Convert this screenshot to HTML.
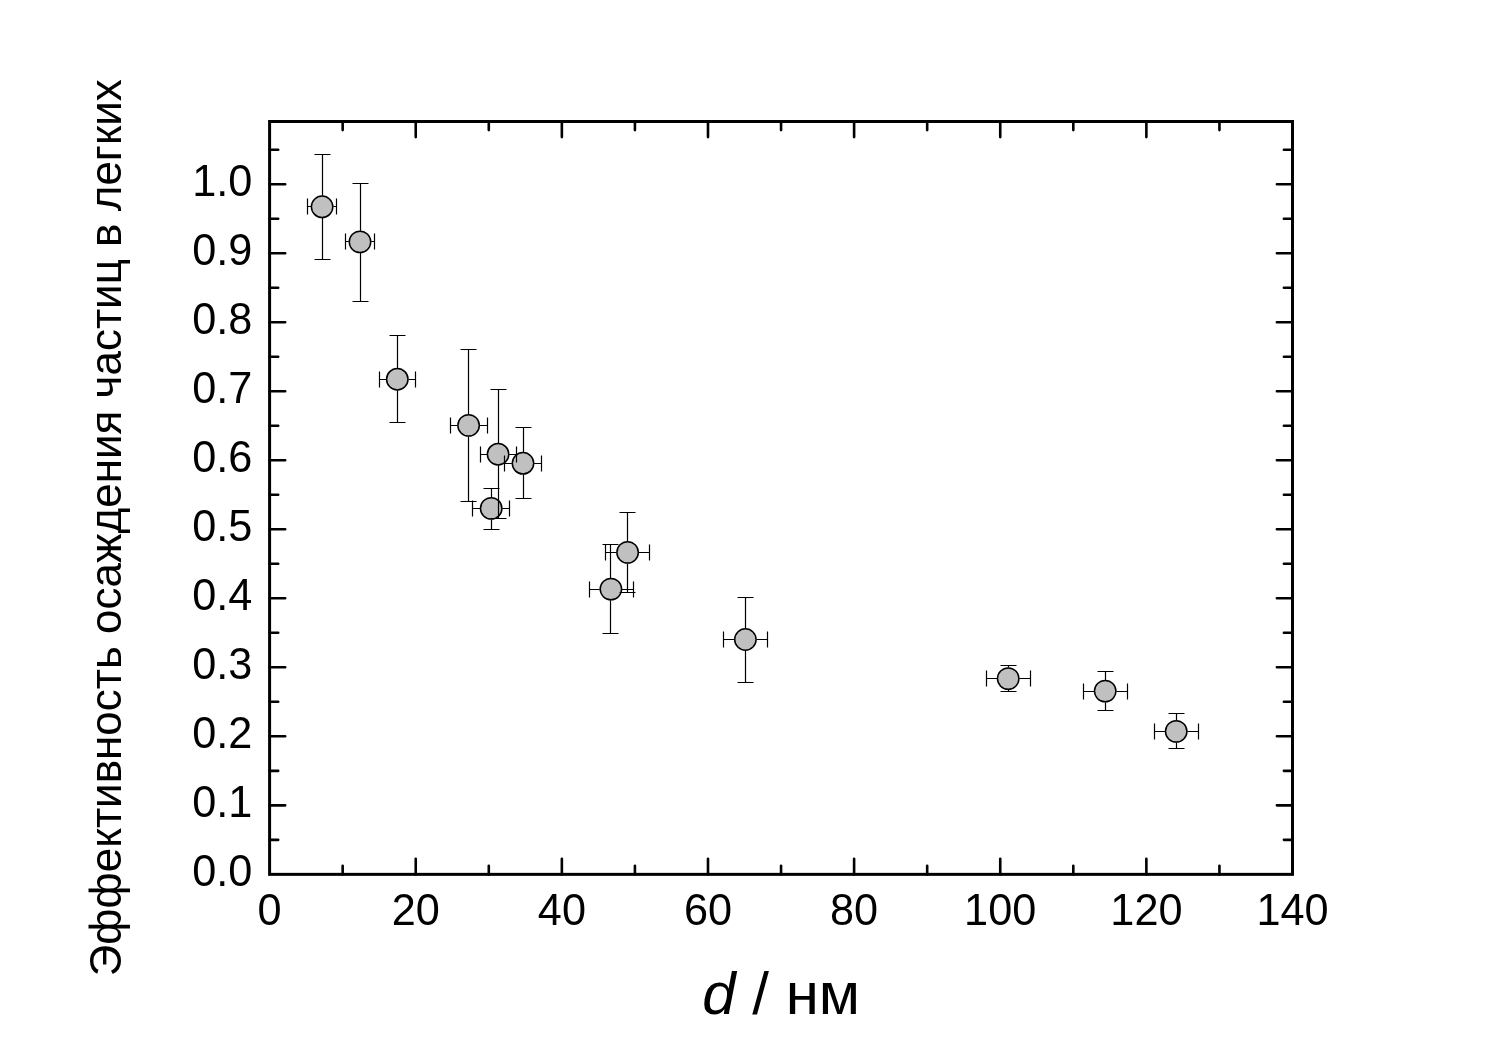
<!DOCTYPE html>
<html lang="ru"><head><meta charset="utf-8"><title>d / нм</title>
<style>html,body{margin:0;padding:0;background:#fff}body{width:1500px;height:1047px;overflow:hidden}svg{display:block}text{font-family:"Liberation Sans",Arial,sans-serif;fill:#000}</style></head><body>
<svg width="1500" height="1047" viewBox="0 0 1500 1047">
<rect width="1500" height="1047" fill="#fff"/>
<g stroke="#000" stroke-width="2.6" fill="none" stroke-linecap="round">
<path d="M342.66 874.35 v-8.6 M342.66 121.5 v8.6"/>
<path d="M415.73 874.35 v-15.6 M415.73 121.5 v15.6"/>
<path d="M488.79 874.35 v-8.6 M488.79 121.5 v8.6"/>
<path d="M561.86 874.35 v-15.6 M561.86 121.5 v15.6"/>
<path d="M634.92 874.35 v-8.6 M634.92 121.5 v8.6"/>
<path d="M707.99 874.35 v-15.6 M707.99 121.5 v15.6"/>
<path d="M781.05 874.35 v-8.6 M781.05 121.5 v8.6"/>
<path d="M854.11 874.35 v-15.6 M854.11 121.5 v15.6"/>
<path d="M927.18 874.35 v-8.6 M927.18 121.5 v8.6"/>
<path d="M1000.24 874.35 v-15.6 M1000.24 121.5 v15.6"/>
<path d="M1073.31 874.35 v-8.6 M1073.31 121.5 v8.6"/>
<path d="M1146.37 874.35 v-15.6 M1146.37 121.5 v15.6"/>
<path d="M1219.44 874.35 v-8.6 M1219.44 121.5 v8.6"/>
<path d="M269.6 839.84 h8.6 M1292.5 839.84 h-8.6"/>
<path d="M269.6 805.34 h15.6 M1292.5 805.34 h-15.6"/>
<path d="M269.6 770.83 h8.6 M1292.5 770.83 h-8.6"/>
<path d="M269.6 736.32 h15.6 M1292.5 736.32 h-15.6"/>
<path d="M269.6 701.81 h8.6 M1292.5 701.81 h-8.6"/>
<path d="M269.6 667.30 h15.6 M1292.5 667.30 h-15.6"/>
<path d="M269.6 632.80 h8.6 M1292.5 632.80 h-8.6"/>
<path d="M269.6 598.29 h15.6 M1292.5 598.29 h-15.6"/>
<path d="M269.6 563.78 h8.6 M1292.5 563.78 h-8.6"/>
<path d="M269.6 529.27 h15.6 M1292.5 529.27 h-15.6"/>
<path d="M269.6 494.77 h8.6 M1292.5 494.77 h-8.6"/>
<path d="M269.6 460.26 h15.6 M1292.5 460.26 h-15.6"/>
<path d="M269.6 425.75 h8.6 M1292.5 425.75 h-8.6"/>
<path d="M269.6 391.24 h15.6 M1292.5 391.24 h-15.6"/>
<path d="M269.6 356.74 h8.6 M1292.5 356.74 h-8.6"/>
<path d="M269.6 322.23 h15.6 M1292.5 322.23 h-15.6"/>
<path d="M269.6 287.72 h8.6 M1292.5 287.72 h-8.6"/>
<path d="M269.6 253.21 h15.6 M1292.5 253.21 h-15.6"/>
<path d="M269.6 218.71 h8.6 M1292.5 218.71 h-8.6"/>
<path d="M269.6 184.20 h15.6 M1292.5 184.20 h-15.6"/>
<path d="M269.6 149.69 h8.6 M1292.5 149.69 h-8.6"/>
<rect x="269.6" y="121.5" width="1022.90" height="752.85" stroke-width="3.0" stroke-linecap="butt"/>
</g>
<g font-size="45.3" text-anchor="end">
<text transform="translate(252.4 886.1) scale(0.955 1)">0.0</text>
<text transform="translate(252.4 817.1) scale(0.955 1)">0.1</text>
<text transform="translate(252.4 748.1) scale(0.955 1)">0.2</text>
<text transform="translate(252.4 679.1) scale(0.955 1)">0.3</text>
<text transform="translate(252.4 610.1) scale(0.955 1)">0.4</text>
<text transform="translate(252.4 541.1) scale(0.955 1)">0.5</text>
<text transform="translate(252.4 472.1) scale(0.955 1)">0.6</text>
<text transform="translate(252.4 403.0) scale(0.955 1)">0.7</text>
<text transform="translate(252.4 334.0) scale(0.955 1)">0.8</text>
<text transform="translate(252.4 265.0) scale(0.955 1)">0.9</text>
<text transform="translate(252.4 196.0) scale(0.955 1)">1.0</text>
</g>
<g font-size="45.3" text-anchor="middle">
<text transform="translate(269.6 925.2) scale(0.955 1)">0</text>
<text transform="translate(415.7 925.2) scale(0.955 1)">20</text>
<text transform="translate(561.9 925.2) scale(0.955 1)">40</text>
<text transform="translate(708.0 925.2) scale(0.955 1)">60</text>
<text transform="translate(854.1 925.2) scale(0.955 1)">80</text>
<text transform="translate(1000.2 925.2) scale(0.955 1)">100</text>
<text transform="translate(1146.4 925.2) scale(0.955 1)">120</text>
<text transform="translate(1292.5 925.2) scale(0.955 1)">140</text>
</g>
<text x="702.3" y="1013.8" font-size="60" xml:space="preserve"><tspan font-style="italic">d</tspan> / нм</text>
<text transform="translate(121 976.3) rotate(-90)" font-size="44">Эффективность осаждения частиц в легких</text>
<g fill="#c0c0c0" stroke="#000" stroke-width="1.5">
<circle cx="322.1" cy="206.8" r="10.7"/>
<circle cx="360.0" cy="241.9" r="10.7"/>
<circle cx="397.3" cy="379.2" r="10.7"/>
<circle cx="468.6" cy="425.4" r="10.7"/>
<circle cx="498.1" cy="454.2" r="10.7"/>
<circle cx="523.0" cy="463.3" r="10.7"/>
<circle cx="491.2" cy="508.4" r="10.7"/>
<circle cx="610.9" cy="589.1" r="10.7"/>
<circle cx="627.6" cy="552.4" r="10.7"/>
<circle cx="745.4" cy="639.5" r="10.7"/>
<circle cx="1008.2" cy="678.6" r="10.7"/>
<circle cx="1105.2" cy="691.1" r="10.7"/>
<circle cx="1176.2" cy="731.4" r="10.7"/>
</g>
<g stroke="#000" stroke-width="1.2" fill="none">
<path d="M322.5 195.65 V154.5 M314.5 154.5 h16.0 M322.5 217.95 V259.5 M314.5 259.5 h16.0 M310.95 206.5 H307.5 M307.5 198.5 v16.0 M333.25 206.5 H336.5 M336.5 198.5 v16.0"/>
<path d="M360.5 230.75 V183.5 M352.5 183.5 h16.0 M360.5 253.05 V301.5 M352.5 301.5 h16.0 M348.85 241.5 H345.5 M345.5 233.5 v16.0 M371.15 241.5 H374.5 M374.5 233.5 v16.0"/>
<path d="M397.5 368.05 V335.5 M389.5 335.5 h16.0 M397.5 390.35 V422.5 M389.5 422.5 h16.0 M386.15 379.5 H379.5 M379.5 371.5 v16.0 M408.45 379.5 H415.5 M415.5 371.5 v16.0"/>
<path d="M468.5 414.25 V349.5 M460.5 349.5 h16.0 M468.5 436.55 V501.5 M460.5 501.5 h16.0 M457.45 425.5 H450.5 M450.5 417.5 v16.0 M479.75 425.5 H487.5 M487.5 417.5 v16.0"/>
<path d="M498.5 443.05 V389.5 M490.5 389.5 h16.0 M498.5 465.35 V518.5 M490.5 518.5 h16.0 M486.95 454.5 H480.5 M480.5 446.5 v16.0 M509.25 454.5 H516.5 M516.5 446.5 v16.0"/>
<path d="M523.5 452.15 V427.5 M515.5 427.5 h16.0 M523.5 474.45 V498.5 M515.5 498.5 h16.0 M511.85 463.5 H504.5 M504.5 455.5 v16.0 M534.15 463.5 H541.5 M541.5 455.5 v16.0"/>
<path d="M491.5 497.25 V488.5 M483.5 488.5 h16.0 M491.5 519.55 V529.5 M483.5 529.5 h16.0 M480.05 508.5 H472.5 M472.5 500.5 v16.0 M502.35 508.5 H509.5 M509.5 500.5 v16.0"/>
<path d="M610.5 577.95 V544.5 M602.5 544.5 h16.0 M610.5 600.25 V633.5 M602.5 633.5 h16.0 M599.75 589.5 H589.5 M589.5 581.5 v16.0 M622.05 589.5 H633.5 M633.5 581.5 v16.0"/>
<path d="M627.5 541.25 V512.5 M619.5 512.5 h16.0 M627.5 563.55 V592.5 M619.5 592.5 h16.0 M616.45 552.5 H605.5 M605.5 544.5 v16.0 M638.75 552.5 H649.5 M649.5 544.5 v16.0"/>
<path d="M745.5 628.35 V597.5 M737.5 597.5 h16.0 M745.5 650.65 V682.5 M737.5 682.5 h16.0 M734.25 639.5 H723.5 M723.5 631.5 v16.0 M756.55 639.5 H767.5 M767.5 631.5 v16.0"/>
<path d="M1008.5 667.45 V665.5 M1000.5 665.5 h16.0 M1008.5 689.75 V691.5 M1000.5 691.5 h16.0 M997.05 678.5 H986.5 M986.5 670.5 v16.0 M1019.35 678.5 H1030.5 M1030.5 670.5 v16.0"/>
<path d="M1105.5 679.95 V671.5 M1097.5 671.5 h16.0 M1105.5 702.25 V710.5 M1097.5 710.5 h16.0 M1094.05 691.5 H1083.5 M1083.5 683.5 v16.0 M1116.35 691.5 H1127.5 M1127.5 683.5 v16.0"/>
<path d="M1176.5 720.25 V713.5 M1168.5 713.5 h16.0 M1176.5 742.55 V748.5 M1168.5 748.5 h16.0 M1165.05 731.5 H1154.5 M1154.5 723.5 v16.0 M1187.35 731.5 H1198.5 M1198.5 723.5 v16.0"/>
</g>
</svg></body></html>
